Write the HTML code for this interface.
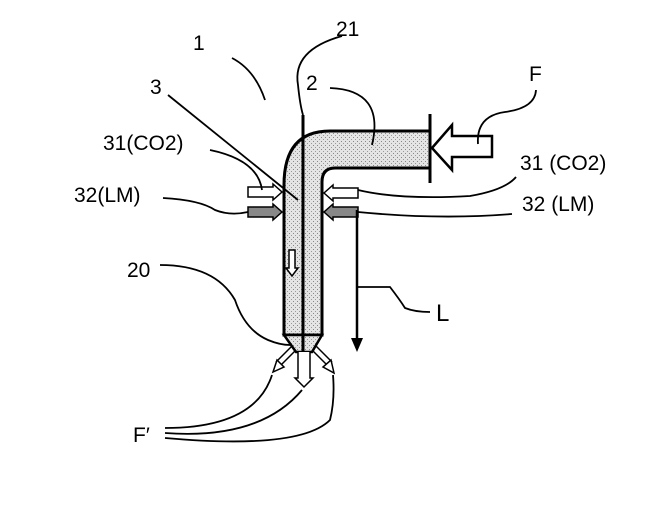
<!DOCTYPE html>
<html><head><style>
body{margin:0;background:#fff;width:669px;height:522px;overflow:hidden}
svg{display:block}
text{font-family:"Liberation Sans",sans-serif;font-size:21px;fill:#000}
</style></head><body>
<svg width="669" height="522" viewBox="0 0 669 522">
<defs>
<pattern id="dots" width="4" height="4" patternUnits="userSpaceOnUse">
<rect width="4" height="4" fill="#e4e4e4"/><rect x="1" y="1" width="1" height="1" fill="#888"/><rect x="3" y="3" width="1" height="1" fill="#999"/>
</pattern>
</defs>
<path d="M284,335 L284,185 Q284,131 330,131 L430,131 L430,168 L335,168 Q322,168 322,182 L322,335 Z" fill="url(#dots)" stroke="#000" stroke-width="3"/>
<path d="M284,335 L322,335 L312,352 L296,352 Z" fill="url(#dots)" stroke="#000" stroke-width="2.5"/>
<line x1="430" y1="114" x2="430" y2="183" stroke="#000" stroke-width="3"/>
<line x1="303" y1="115" x2="303" y2="385" stroke="#000" stroke-width="3"/>
<path d="M432,148 L452,125 L452,136 L492,136 L492,157 L452,157 L452,170 Z" fill="#fff" stroke="#000" stroke-width="2.5"/>
<path d="M248,187 L273,187 L273,184 L282,192 L273,200 L273,197 L248,197 Z" fill="#fff" stroke="#000" stroke-width="1.5"/>
<path d="M248,207 L273,207 L273,204 L282,212 L273,220 L273,217 L248,217 Z" fill="#888" stroke="#000" stroke-width="1.5"/>
<path d="M358,188 L333,188 L333,185 L324,193 L333,201 L333,198 L358,198 Z" fill="#fff" stroke="#000" stroke-width="1.5"/>
<path d="M358,207 L333,207 L333,204 L324,212 L333,220 L333,217 L358,217 Z" fill="#888" stroke="#000" stroke-width="1.5"/>
<path d="M289,250 L295,250 L295,268 L298,268 L292,276 L286,268 L289,268 Z" fill="#fff" stroke="#000" stroke-width="1.5"/>
<path d="M296,350 L280,366 M292,346 L276,362" stroke="#000" stroke-width="1.5" fill="none"/>
<path d="M273,372 L277,360 L284,367 Z" fill="#fff" stroke="#000" stroke-width="1.5"/>
<path d="M312,350 L328,366 M316,346 L332,362" stroke="#000" stroke-width="1.5" fill="none"/>
<path d="M334,373 L331,360 L323,367 Z" fill="#fff" stroke="#000" stroke-width="1.5"/>
<path d="M298,352 L298,378 L295,378 L304,387 L313,378 L310,378 L310,352" stroke="#000" stroke-width="1.5" fill="#fff"/>
<line x1="357" y1="210" x2="357" y2="340" stroke="#000" stroke-width="2.5"/>
<path d="M351,338 L363,338 L357,352 Z" fill="#000"/>
<g fill="none" stroke="#000" stroke-width="1.8">
<path d="M232,58 Q255,70 265,100"/>
<path d="M342,36 Q292,50 298,85 Q300,105 303,115"/>
<path d="M168,95 L298,200"/>
<path d="M330,88 Q385,90 372,145"/>
<path d="M536,90 Q535,108 505,112 Q476,116 478,144"/>
<path d="M210,150 Q258,160 262,190"/>
<path d="M163,198 Q200,200 215,210 Q230,216 248,212"/>
<path d="M358,190 Q400,200 470,196 Q505,190 516,177"/>
<path d="M358,212 Q440,220 512,214"/>
<path d="M160,265 Q215,265 235,300 Q245,330 268,340 Q280,345 290,345"/>
<path d="M357,287 L390,287 Q400,300 405,308 Q415,312 430,312"/>
<path d="M165,428 Q255,428 272,375"/>
<path d="M165,433 Q260,440 302,390"/>
<path d="M165,438 Q300,450 330,420 Q335,400 333,375"/>
</g>
<text x="193" y="50">1</text>
<text x="336" y="36">21</text>
<text x="150" y="94">3</text>
<text x="306" y="90">2</text>
<text x="529" y="81">F</text>
<text x="103" y="150">31(CO2)</text>
<text x="520" y="170">31 (CO2)</text>
<text x="74" y="202">32(LM)</text>
<text x="522" y="211">32 (LM)</text>
<text x="127" y="277">20</text>
<text x="436" y="321" style="font-size:24px">L</text>
<text x="133" y="442">F′</text>
</svg>
</body></html>
